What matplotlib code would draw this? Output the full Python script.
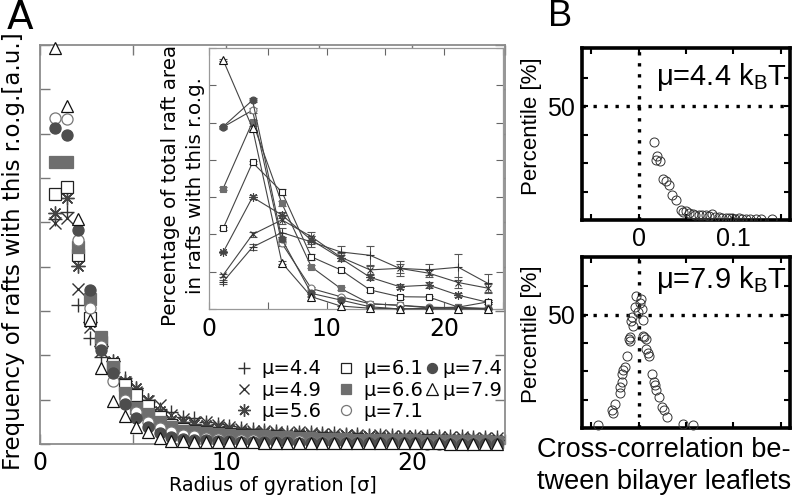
import matplotlib
matplotlib.use("Agg")
import matplotlib.pyplot as plt
from matplotlib.lines import Line2D

# ---------------- data ----------------
mu_labels = ["μ=4.4", "μ=4.9", "μ=5.6", "μ=6.1", "μ=6.6", "μ=7.1", "μ=7.4", "μ=7.9"]

# main panel: radius of gyration bins
rog_main = [0.8, 1.43, 2.05, 2.68, 3.3, 3.93, 4.55, 5.18, 5.8, 6.43, 7.05, 7.68, 8.3,
            8.93, 9.55, 10.18, 10.8, 11.43, 12.05, 12.68, 13.3, 13.93, 14.55, 15.18,
            15.8, 16.43, 17.05, 17.68, 18.3, 18.93, 19.55, 20.18, 20.8, 21.43, 22.05,
            22.68, 23.3, 23.93, 24.55]

freq_44 = [5.07, 5.23, 3.13, 2.39, 1.96, 1.62, 1.49, 1.22, 0.95, 0.80, 0.72, 0.60, 0.58,
           0.50, 0.45, 0.40, 0.36, 0.33, 0.32, 0.30, 0.28, 0.27, 0.26, 0.25, 0.24, 0.23,
           0.22, 0.21, 0.21, 0.20, 0.19, 0.19, 0.18, 0.18, 0.17, 0.17, 0.16, 0.16, 0.15]
freq_49 = [4.98, 5.09, 3.49, 2.64, 2.10, 1.75, 1.40, 1.18, 0.97, 0.88, 0.66, 0.56, 0.50,
           0.50, 0.42, 0.38, 0.34, 0.30, 0.29, 0.27, 0.25, 0.26, 0.24, 0.22, 0.23, 0.21,
           0.20, 0.19, 0.20, 0.18, 0.17, 0.18, 0.16, 0.16, 0.15, 0.15, 0.14, 0.14, 0.13]
freq_56 = [5.20, 5.56, 4.01, 2.75, 2.22, 1.87, 1.42, 1.26, 0.99, 0.75, 0.54, 0.50, 0.45,
           0.42, 0.38, 0.33, 0.30, 0.27, 0.27, 0.25, 0.23, 0.22, 0.22, 0.20, 0.19, 0.20,
           0.18, 0.17, 0.16, 0.16, 0.15, 0.14, 0.14, 0.13, 0.12, 0.12, 0.11, 0.11, 0.10]
freq_61 = [5.65, 5.79, 4.26, 2.85, 2.30, 1.80, 1.33, 1.10, 0.85, 0.62, 0.42, 0.34, 0.30,
           0.27, 0.25, 0.23, 0.21, 0.20, 0.18, 0.17, 0.16, 0.15, 0.14, 0.13, 0.12, 0.12,
           0.11, 0.10, 0.10, 0.09, 0.09, 0.08, 0.08, 0.07, 0.07, 0.06, 0.06, 0.06, 0.05]
freq_66 = [6.35, 6.35, 4.44, 3.27, 2.41, 1.74, 1.15, 0.81, 0.68, 0.50, 0.38, 0.30, 0.27,
           0.24, 0.22, 0.20, 0.19, 0.18, 0.17, 0.16, 0.15, 0.14, 0.13, 0.12, 0.12, 0.11,
           0.10, 0.10, 0.09, 0.09, 0.08, 0.08, 0.07, 0.07, 0.07, 0.06, 0.06, 0.06, 0.05]
freq_71 = [7.36, 7.32, 4.60, 3.06, 2.20, 1.42, 1.00, 0.72, 0.50, 0.36, 0.26, 0.20, 0.17,
           0.14, 0.12, 0.10, 0.09, 0.08, 0.07, 0.07, 0.06, 0.06, 0.05, 0.05, 0.04, 0.04,
           0.04, 0.03, 0.03, 0.03, 0.03, 0.02, 0.02, 0.02, 0.02, 0.02, 0.02, 0.01, 0.01]
freq_74 = [7.12, 6.98, 4.82, 3.47, 2.12, 1.60, 0.90, 0.59, 0.39, 0.24, 0.16, 0.12, 0.10,
           0.08, 0.07, 0.06, 0.05, 0.05, 0.04, 0.04, 0.04, 0.03, 0.03, 0.03, 0.03, 0.02,
           0.02, 0.02, 0.02, 0.02, 0.02, 0.02, 0.01, 0.01, 0.01, 0.01, 0.01, 0.01, 0.01]
freq_79 = [8.94, 7.63, 5.07, 2.80, 1.71, 0.97, 0.63, 0.39, 0.27, 0.14, 0.06, 0.06, 0.05,
           0.05, 0.04, 0.04, 0.04, 0.04, 0.03, 0.03, 0.03, 0.03, 0.03, 0.03, 0.02, 0.02,
           0.02, 0.02, 0.02, 0.02, 0.02, 0.02, 0.02, 0.02, 0.01, 0.01, 0.01, 0.01, 0.01]

# inset: percentage of total raft area
rog_inset = [1.2, 3.7, 6.2, 8.7, 11.2, 13.7, 16.2, 18.7, 21.2, 23.7]
area_44 = [0.73, 1.66, 2.05, 1.80, 1.53, 1.44, 1.09, 1.05, 1.12, 0.69]
err_44 = [0.05, 0.08, 0.12, 0.15, 0.15, 0.25, 0.20, 0.15, 0.35, 0.25]
area_49 = [0.91, 2.00, 2.39, 1.94, 1.39, 1.05, 1.09, 0.96, 0.71, 0.56]
err_49 = [0.04, 0.06, 0.10, 0.12, 0.10, 0.10, 0.12, 0.10, 0.15, 0.10]
area_56 = [1.52, 3.00, 2.52, 1.85, 1.36, 0.85, 0.60, 0.64, 0.37, 0.18]
err_56 = [0.03, 0.05, 0.08, 0.10, 0.08, 0.07, 0.06, 0.08, 0.06, 0.05]
area_61 = [2.16, 3.93, 3.14, 1.40, 1.05, 0.51, 0.33, 0.32, 0.05, 0.19]
err_61 = [0.03, 0.05, 0.08, 0.08, 0.06, 0.05, 0.05, 0.04, 0.03, 0.05]
area_66 = [3.23, 5.02, 2.83, 1.13, 0.55, 0.14, 0.10, 0.03, 0.05, 0.00]
err_66 = [0.03, 0.04, 0.06, 0.04, 0.03, 0.02, 0.02, 0.01, 0.02, 0.01]
area_71 = [4.88, 5.33, 1.76, 0.55, 0.33, 0.14, 0.10, 0.05, 0.03, 0.02]
err_71 = [0.04, 0.06, 0.06, 0.04, 0.03, 0.02, 0.02, 0.01, 0.01, 0.01]
area_74 = [4.89, 5.60, 1.87, 0.42, 0.24, 0.06, 0.00, 0.02, 0.02, 0.00]
err_74 = [0.03, 0.05, 0.06, 0.03, 0.02, 0.01, 0.01, 0.01, 0.01, 0.01]
area_79 = [6.68, 4.85, 1.24, 0.33, 0.08, 0.02, 0.01, 0.00, 0.00, 0.00]
err_79 = [0.03, 0.05, 0.04, 0.02, 0.01, 0.01, 0.00, 0.00, 0.00, 0.00]

# panel B: cross-correlation vs percentile
cc_44 = [0.0158, 0.0193, 0.0186, 0.022, 0.026, 0.0284, 0.032, 0.035, 0.039, 0.045,
         0.047, 0.050, 0.053, 0.057, 0.060, 0.064, 0.067, 0.071, 0.074, 0.078, 0.081,
         0.085, 0.088, 0.092, 0.095, 0.099, 0.102, 0.106, 0.109, 0.113, 0.118, 0.124,
         0.129, 0.141]
pct_44 = [34.2, 28.3, 26.5, 25.8, 18.1, 17.0, 15.2, 11.0, 8.6, 4.4, 3.7, 4.1, 3.0, 2.6,
          2.3, 2.3, 2.0, 2.3, 1.9, 2.7, 1.5, 1.2, 1.0, 0.8, 1.0, 0.8, 0.6, 0.7, 0.5, 0.6,
          0.5, 0.6, 0.5, 0.5]
cc_79 = [-0.0025, 0.0028, 0.0011, -0.004, 0.0035, -0.001, -0.0066, 0.0046, -0.0077,
         -0.006, -0.0095, -0.0100, -0.0090, 0.0042, 0.0060, 0.0077, 0.0077, 0.0095, 0.011,
         -0.0123, -0.0147, -0.0165, -0.018, 0.0144, 0.0161, 0.0168, 0.0179, -0.018,
         -0.0196, -0.0196, 0.0214, 0.0249, 0.0266, 0.0294, -0.0252, -0.0287, -0.027,
         -0.0427, 0.0473, 0.057]
pct_79 = [58.3, 56.9, 55.4, 53.5, 52.5, 51.0, 49.1, 47.7, 47.4, 45.2, 40.0, 39.3, 38.6,
          40.7, 40.0, 39.3, 34.9, 33.0, 32.0, 31.6, 26.9, 25.4, 23.7, 23.7, 20.2, 18.8,
          16.9, 20.2, 18.0, 15.4, 13.7, 9.4, 7.9, 5.0, 10.8, 7.9, 6.7, 1.5, 1.9, 1.2]

# ---------------- styles ----------------
styles = [
    dict(marker="+", mfc="none", mec="#333333", ms=10, mew=1.0),
    dict(marker="x", mfc="none", mec="#333333", ms=8, mew=1.0),
    dict(marker=(8, 2, 0), mfc="none", mec="#444444", ms=10, mew=1.0),
    dict(marker="s", mfc="white", mec="#222222", ms=8, mew=0.9),
    dict(marker="s", mfc="#6e6e6e", mec="#6e6e6e", ms=8, mew=0.9),
    dict(marker="o", mfc="white", mec="#777777", ms=8, mew=0.9),
    dict(marker="o", mfc="#4d4d4d", mec="#4d4d4d", ms=8, mew=0.9),
    dict(marker="^", mfc="white", mec="#111111", ms=9, mew=0.9),
]
main_series = [freq_44, freq_49, freq_56, freq_61, freq_66, freq_71, freq_74, freq_79]
inset_series = [area_44, area_49, area_56, area_61, area_66, area_71, area_74, area_79]
inset_errs = [err_44, err_49, err_56, err_61, err_66, err_71, err_74, err_79]

W, H = 793, 500
fig = plt.figure(figsize=(W / 100, H / 100), dpi=100)


def fb(l, t, r, b):
    return [l / W, 1 - b / H, (r - l) / W, (b - t) / H]


# ---------------- main panel A ----------------
ax = fig.add_axes(fb(40, 45, 505, 444))
for vals, st in zip(main_series, styles):
    ax.plot(rog_main, vals, linestyle="none", marker=st["marker"], ms=st["ms"],
            mfc=st["mfc"], mec=st["mec"], mew=st["mew"], clip_on=False, zorder=3)
ax.set_xlim(0, 25)
ax.set_ylim(0, 9)
ax.set_xticks([0, 10, 20])
ax.set_xticks([5, 15, 25], minor=True)
ax.set_yticks(range(0, 10))
ax.set_yticklabels([])
ax.tick_params(axis="both", which="both", direction="in", length=7, width=1.0,
               color="#777777", top=True, right=True, labelsize=17, pad=5)
for s in ax.spines.values():
    s.set_color("#8c8c8c")
    s.set_linewidth(1.3)
ax.set_xlabel("Radius of gyration [σ]", fontsize=13.8, labelpad=1)
fig.text(14 / W, 1 - 251 / H, "Frequency of rafts with this r.o.g.[a.u.]",
         rotation=90, ha="center", va="center", fontsize=16.5)

handles = [Line2D([], [], linestyle="none", marker=st["marker"], ms=st["ms"] * 0.9,
                  mfc=st["mfc"], mec=st["mec"], mew=st["mew"]) for st in styles]
leg1 = ax.legend(handles[:6], mu_labels[:6], ncol=2, loc="upper left", frameon=False,
                 bbox_to_anchor=(0.418, 0.212), borderaxespad=0, borderpad=0,
                 handlelength=1.0, handletextpad=0.4, columnspacing=0.75,
                 labelspacing=0.12, fontsize=14)
ax.add_artist(leg1)
ax.legend(handles[6:], mu_labels[6:], ncol=1, loc="upper left", frameon=False,
          bbox_to_anchor=(0.826, 0.212), borderaxespad=0, borderpad=0,
          handlelength=0.8, handletextpad=0.15, labelspacing=0.12, fontsize=14)

# ---------------- inset ----------------
axi = fig.add_axes(fb(209, 48, 503, 309))
for vals, errs, st in zip(inset_series, inset_errs, styles):
    axi.errorbar(rog_inset, vals, yerr=errs, color="#444444", lw=0.8,
                 elinewidth=0.7, ecolor="#555555", capsize=3, capthick=0.7,
                 marker=st["marker"], ms=st["ms"] * 0.62, mfc=st["mfc"],
                 mec=st["mec"], mew=0.8, clip_on=False, zorder=3)
axi.set_xlim(0, 25)
axi.set_ylim(0, 7)
axi.set_xticks([0, 10, 20])
axi.set_xticks([5, 15, 25], minor=True)
axi.set_yticks(range(0, 8))
axi.set_yticklabels([])
axi.tick_params(axis="both", which="both", direction="in", length=5, width=0.8,
                color="#666666", top=True, right=True, labelsize=17, pad=6)
for s in axi.spines.values():
    s.set_color("#999999")
    s.set_linewidth(0.9)
fig.text(183 / W, 1 - 186 / H, "Percentage of total raft area\nin rafts with this r.o.g.",
         rotation=90, ha="center", va="center", fontsize=14.3, linespacing=1.45)

fig.text(20 / W, 1 - 18 / H, "A", fontsize=28, ha="center", va="center")

# ---------------- panel B ----------------
bfont = "Liberation Sans"


def style_b(a, show_xlabels):
    a.set_xlim(-0.06, 0.16)
    a.set_ylim(0, 75.5)
    a.set_xticks([-0.05, 0, 0.05, 0.1, 0.15])
    a.set_xticklabels(["", "0", "", "0.1", ""] if show_xlabels else [])
    a.set_yticks([12.5, 25, 37.5, 50, 62.5])
    a.set_yticklabels(["", "", "", "50", ""])
    a.tick_params(axis="both", direction="in", length=4, width=1.5, color="black",
                  top=True, right=True, labelsize=18, pad=5)
    for lab in a.get_xticklabels() + a.get_yticklabels():
        lab.set_fontfamily(bfont)
    for s in a.spines.values():
        s.set_linewidth(2.6)
        s.set_color("black")
    a.axhline(50, color="black", lw=2.4, ls=(0, (1, 2.3)), zorder=1)
    a.axvline(0, color="black", lw=2.4, ls=(0, (1, 2.3)), zorder=1)


axb1 = fig.add_axes(fb(582, 48, 790, 220))
axb1.plot(cc_44, pct_44, linestyle="none", marker="o", ms=6.5, mfc="none",
          mec="#333333", mew=0.7, zorder=3)
style_b(axb1, True)
axb1.text(0.985, 0.83, "μ=4.4 k$_{\\mathregular{B}}$T", transform=axb1.transAxes,
          ha="right", va="center", fontsize=21, family=bfont)

axb2 = fig.add_axes(fb(582, 257, 790, 428))
axb2.plot(cc_79, pct_79, linestyle="none", marker="o", ms=6.5, mfc="none",
          mec="#333333", mew=0.7, zorder=3, clip_on=False)
style_b(axb2, False)
axb2.text(0.985, 0.865, "μ=7.9 k$_{\\mathregular{B}}$T", transform=axb2.transAxes,
          ha="right", va="center", fontsize=21, family=bfont)

fig.text(532 / W, 1 - 126 / H, "Percentile [%]", rotation=90, ha="center",
         va="center", fontsize=16, family=bfont)
fig.text(532 / W, 1 - 334 / H, "Percentile [%]", rotation=90, ha="center",
         va="center", fontsize=16, family=bfont)
fig.text(664 / W, 1 - 466 / H, "Cross-correlation be-\ntween bilayer leaflets",
         ha="center", va="center", fontsize=19.5, family=bfont, linespacing=1.3)
fig.text(560 / W, 1 - 17 / H, "B", fontsize=26, ha="center", va="center", family=bfont)

fig.savefig("out.png", dpi=100)
